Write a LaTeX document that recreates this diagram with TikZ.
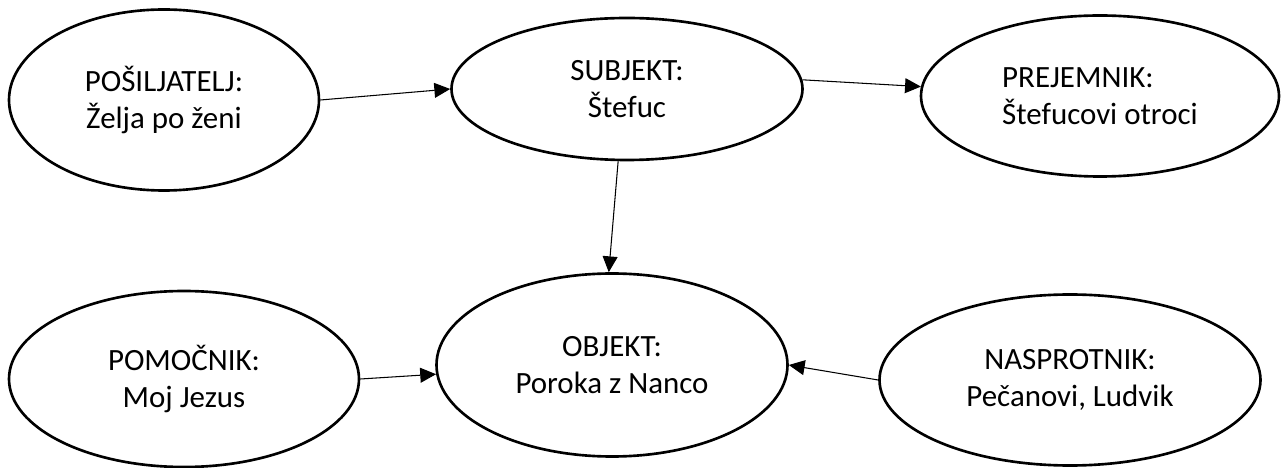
\documentclass[tikz,border=0pt]{standalone}
\usepackage{fontspec}
\setmainfont{Carlito}
\usetikzlibrary{arrows.meta,shapes.geometric}
\tikzset{
  >={Triangle[length=9pt,width=8.5pt]},
  actor/.style={draw, ellipse, line width=1.5pt, inner sep=0pt, align=center,
                font=\fontsize{17.6}{21}\selectfont},
  flow/.style={->, line width=0.6pt}
}
\begin{document}
\begin{tikzpicture}
\useasboundingbox (0,0) rectangle (25.66,-9.36);
\node[actor, minimum width=6.2cm, minimum height=3.62cm] (posl) at (3.28,-2.00) {POŠILJATELJ:\\ Želja po ženi};
\node[actor, minimum width=7.02cm, minimum height=2.84cm] (subj) at (12.54,-1.78) {SUBJEKT:\\ Štefuc};
\node[actor, minimum width=7.16cm, minimum height=3.22cm, align=left] (prej) at (22.00,-1.92) {PREJEMNIK:\\ Štefucovi otroci};
\node[actor, minimum width=7.0cm, minimum height=3.52cm] (pom) at (3.68,-7.58) {POMOČNIK:\\ Moj Jezus};
\node[actor, minimum width=7.02cm, minimum height=3.66cm] (obj) at (12.24,-7.30) {OBJEKT:\\ Poroka z Nanco};
\node[actor, minimum width=7.62cm, minimum height=3.42cm] (nasp) at (21.40,-7.60) {NASPROTNIK:\\ Pečanovi, Ludvik};
\draw[flow] (posl.east) -- (subj.west);
\draw[flow] (subj.3) -- (prej.177);
\draw[flow] (subj.263) -- (obj.92);
\draw[flow] (pom.east) -- (obj.183);
\draw[flow] (nasp.west) -- (obj.east);
\end{tikzpicture}
\end{document}
